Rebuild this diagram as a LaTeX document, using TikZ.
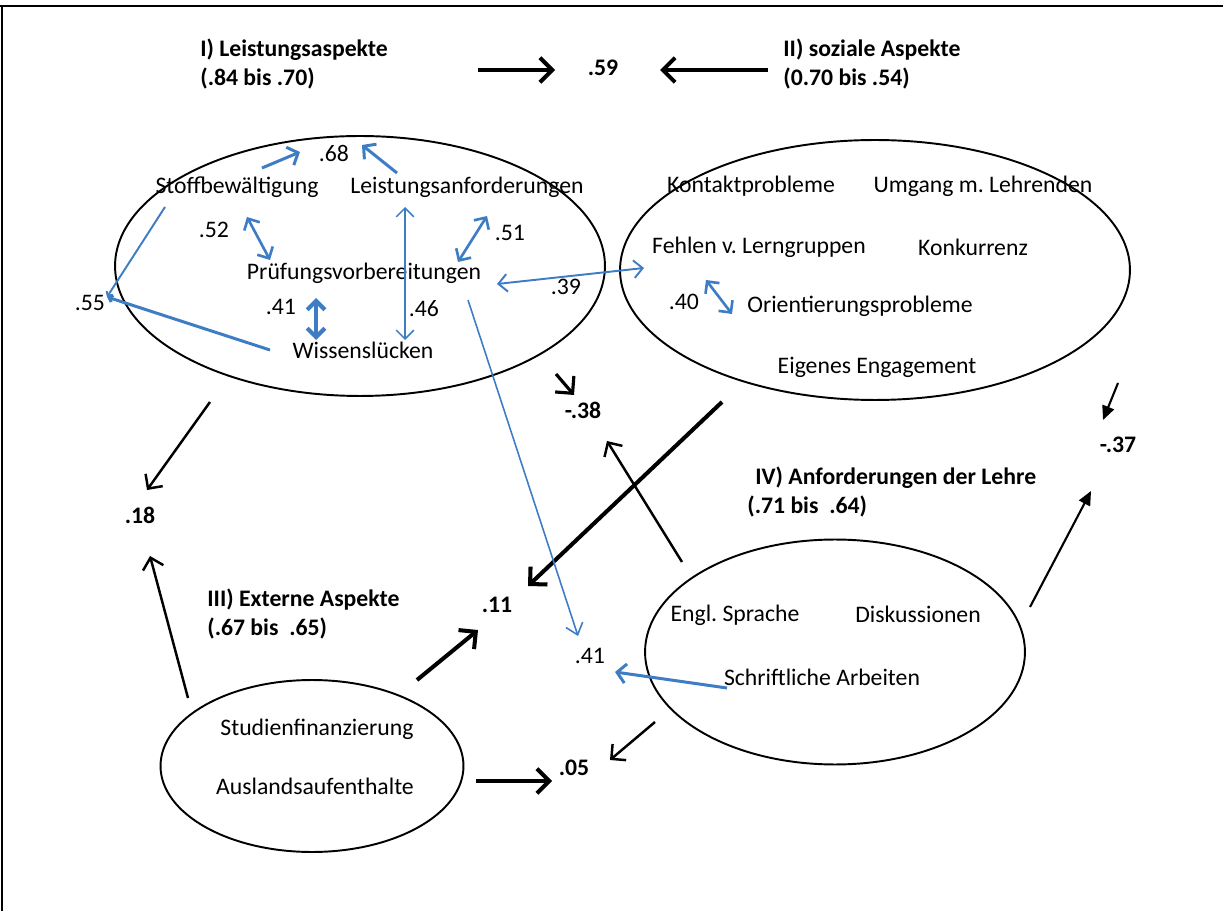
\documentclass[tikz,border=0pt]{standalone}
\usepackage{fontspec}
\setmainfont{Carlito}
\usepackage{xcolor}
\usetikzlibrary{arrows.meta}
\usetikzlibrary{shapes.geometric}
\definecolor{pathblue}{RGB}{62,125,196}
\frenchspacing

\begin{document}
\begin{tikzpicture}[x=0.02cm,y=-0.02cm,
		txt/.style={font=\fontsize{13.5}{16}\selectfont,inner sep=0pt},
		val/.style={font=\fontsize{13.5}{16}\selectfont,inner sep=0pt},
		bval/.style={font=\bfseries\fontsize{13.5}{16}\selectfont,inner sep=0pt},
		factor/.style={font=\bfseries\fontsize{13.5}{16}\selectfont,align=left,anchor=west,inner sep=0pt},
		cluster/.style={draw,ellipse,line width=1.1pt,inner sep=0pt,outer sep=0pt},
		blk/.style={line width=2.3pt,-{Straight Barb[length=7pt,width=14pt]}},
		blkthin/.style={line width=1.4pt,-{Straight Barb[length=6pt,width=12pt]}},
		blksolid/.style={line width=1.2pt,-{Triangle[length=8pt,width=7pt]}},
		blu/.style={pathblue,line width=1.7pt,-{Straight Barb[length=5pt,width=11pt]}},
		bluthin/.style={pathblue,line width=0.9pt,-{Straight Barb[length=6pt,width=10pt]}},
		bludbl/.style={pathblue,line width=1.5pt,{Straight Barb[length=5pt,width=10pt]}-{Straight Barb[length=5pt,width=10pt]}}]
	\useasboundingbox (0,0) rectangle (1223,911);
	
	% frame
	\draw[line width=1.2pt] (0,6) -- (1223,6);
	\draw[line width=0.6pt] (2,6) -- (2,911);
	
	% the four factors
	\node[cluster,minimum width=9.8cm,minimum height=5.2cm] (leistung) at (360,266) {};
	\node[cluster,minimum width=10.2cm,minimum height=5.2cm] (sozial) at (875,270) {};
	\node[cluster,minimum width=6.06cm,minimum height=3.44cm] (extern) at (312,766) {};
	\node[cluster,minimum width=7.6cm,minimum height=4.5cm] (lehre) at (835,652) {};
	
	\node[factor] (fI) at (200,64) {I) Leistungsaspekte\\(.84 bis .70)};
	\node[factor] (fII) at (783,64) {II) soziale Aspekte\\(0.70 bis .54)};
	\node[factor] (fIII) at (207,614) {III) Externe Aspekte\\(.67 bis~~.65)};
	\node[factor] (fIV) at (747,492) {\hspace{4.5pt}IV) Anforderungen der Lehre\\(.71 bis~~.64)};
	
	% items
	\node[txt] (stoff) at (237,187) {Stoffbewältigung};
	\node[txt] (leist) at (467,187) {Leistungsanforderungen};
	\node[txt] (pruef) at (364,273) {Prüfungsvorbereitungen};
	\node[txt] (wissen) at (363,350) {Wissenslücken};
	\node[txt] (kontakt) at (751,186) {Kontaktprobleme};
	\node[txt] (umgang) at (983,186) {Umgang m. Lehrenden};
	\node[txt] (lerngr) at (759,247) {Fehlen v. Lerngruppen};
	\node[txt] (konkurrenz) at (973,247) {Konkurrenz};
	\node[txt] (orient) at (860,306) {Orientierungsprobleme};
	\node[txt] (engage) at (877,367) {Eigenes Engagement};
	\node[txt] (engl) at (735,615) {Engl. Sprache};
	\node[txt] (diskus) at (918,614) {Diskussionen};
	\node[txt] (schrift) at (822,677) {Schriftliche Arbeiten};
	\node[txt] (finanz) at (317,729) {Studienfinanzierung};
	\node[txt] (ausland) at (315,786) {Auslandsaufenthalte};
	
	% coefficients
	\node[val] (v68) at (334,153) {.68};
	\node[val] (v52) at (214,230) {.52};
	\node[val] (v51) at (510,233) {.51};
	\node[val] (v39) at (566,287) {.39};
	\node[val] (v41a) at (281,307) {.41};
	\node[val] (v46) at (424,309) {.46};
	\node[val] (v55) at (90,303) {.55};
	\node[val] (v40) at (684,302) {.40};
	\node[val] (v41b) at (590,656) {.41};
	\node[bval] (v59) at (603,68) {.59};
	\node[bval] (v18) at (140,515) {.18};
	\node[bval] (v11) at (497,605) {.11};
	\node[bval] (v05) at (574,768) {.05};
	\node[bval] (vm38) at (583,410) {-.38};
	\node[bval] (vm37) at (1118,445) {-.37};
	
	% free ends of the connectors
	\coordinate (sI) at (478,70);   \coordinate (tI) at (555,70);
	\coordinate (sII) at (768,70);  \coordinate (tII) at (660,70);
	\coordinate (sL) at (210,402);  \coordinate (tL) at (147,490);
	\coordinate (sE1) at (188,698); \coordinate (tE1) at (150,556);
	\coordinate (sE2) at (417,680); \coordinate (tE2) at (478,630);
	\coordinate (sE3) at (476,781); \coordinate (tE3) at (552,781);
	\coordinate (sS1) at (722,402); \coordinate (tS1) at (528,586);
	\coordinate (sS2) at (1118,383); \coordinate (tS2) at (1103,420);
	\coordinate (sP) at (556,374);  \coordinate (tP) at (574,395);
	\coordinate (sA1) at (682,562); \coordinate (tA1) at (607,441);
	\coordinate (sA2) at (655,722); \coordinate (tA2) at (610,760);
	\coordinate (sA3) at (1030,607); \coordinate (tA3) at (1091,491);
	
	% black paths
	\draw[blk] (sI) -- (tI);
	\draw[blk] (sII) -- (tII);
	\draw[blkthin] (sL) -- (tL);
	\draw[blkthin] (sE1) -- (tE1);
	\draw[blk] (sE2) -- (tE2);
	\draw[blk] (sE3) -- (tE3);
	\draw[blk] (sS1) -- (tS1);
	\draw[blksolid] (sS2) -- (tS2);
	\draw[blk,line width=1.8pt] (sP) -- (tP);
	\draw[blkthin] (sA1) -- (tA1);
	\draw[blkthin] (sA2) -- (tA2);
	\draw[blksolid] (sA3) -- (tA3);
	
	% blue paths (correlations)
	\coordinate (c68a) at (262,168); \coordinate (c68b) at (300,152);
	\coordinate (c68c) at (397,173); \coordinate (c68d) at (362,145);
	\coordinate (c52a) at (247,217); \coordinate (c52b) at (270,260);
	\coordinate (c46a) at (405,207); \coordinate (c46b) at (405,340);
	\coordinate (c51a) at (487,216); \coordinate (c51b) at (458,262);
	\coordinate (c41a) at (316,298); \coordinate (c41b) at (316,340);
	\coordinate (c39a) at (497,284); \coordinate (c39b) at (644,268);
	\coordinate (c55) at (107,297);
	\coordinate (c55a) at (165,207); \coordinate (c55b) at (270,350);
	\coordinate (c40a) at (706,280); \coordinate (c40b) at (732,314);
	\coordinate (cPa) at (468,300);  \coordinate (cPb) at (578,636);
	\coordinate (cSa) at (727,688);  \coordinate (cSb) at (615,672);
	
	\draw[blu] (c68a) -- (c68b);
	\draw[blu] (c68c) -- (c68d);
	\draw[bludbl] (c52a) -- (c52b);
	\draw[bludbl,line width=0.9pt] (c46a) -- (c46b);
	\draw[bludbl] (c51a) -- (c51b);
	\draw[bludbl,line width=2.4pt] (c41a) -- (c41b);
	\draw[bludbl,line width=1.1pt] (c39a) -- (c39b);
	\draw[bludbl] (c40a) -- (c40b);
	\draw[pathblue,line width=1.1pt,-{Straight Barb[length=2pt,width=4pt]}] (c55a) -- (c55);
	\draw[pathblue,line width=1.7pt,-{Straight Barb[length=2pt,width=4pt]}] (c55b) -- (c55);
	\draw[bluthin] (cPa) -- (cPb);
	\draw[blu] (cSa) -- (cSb);
\end{tikzpicture}
\end{document}
